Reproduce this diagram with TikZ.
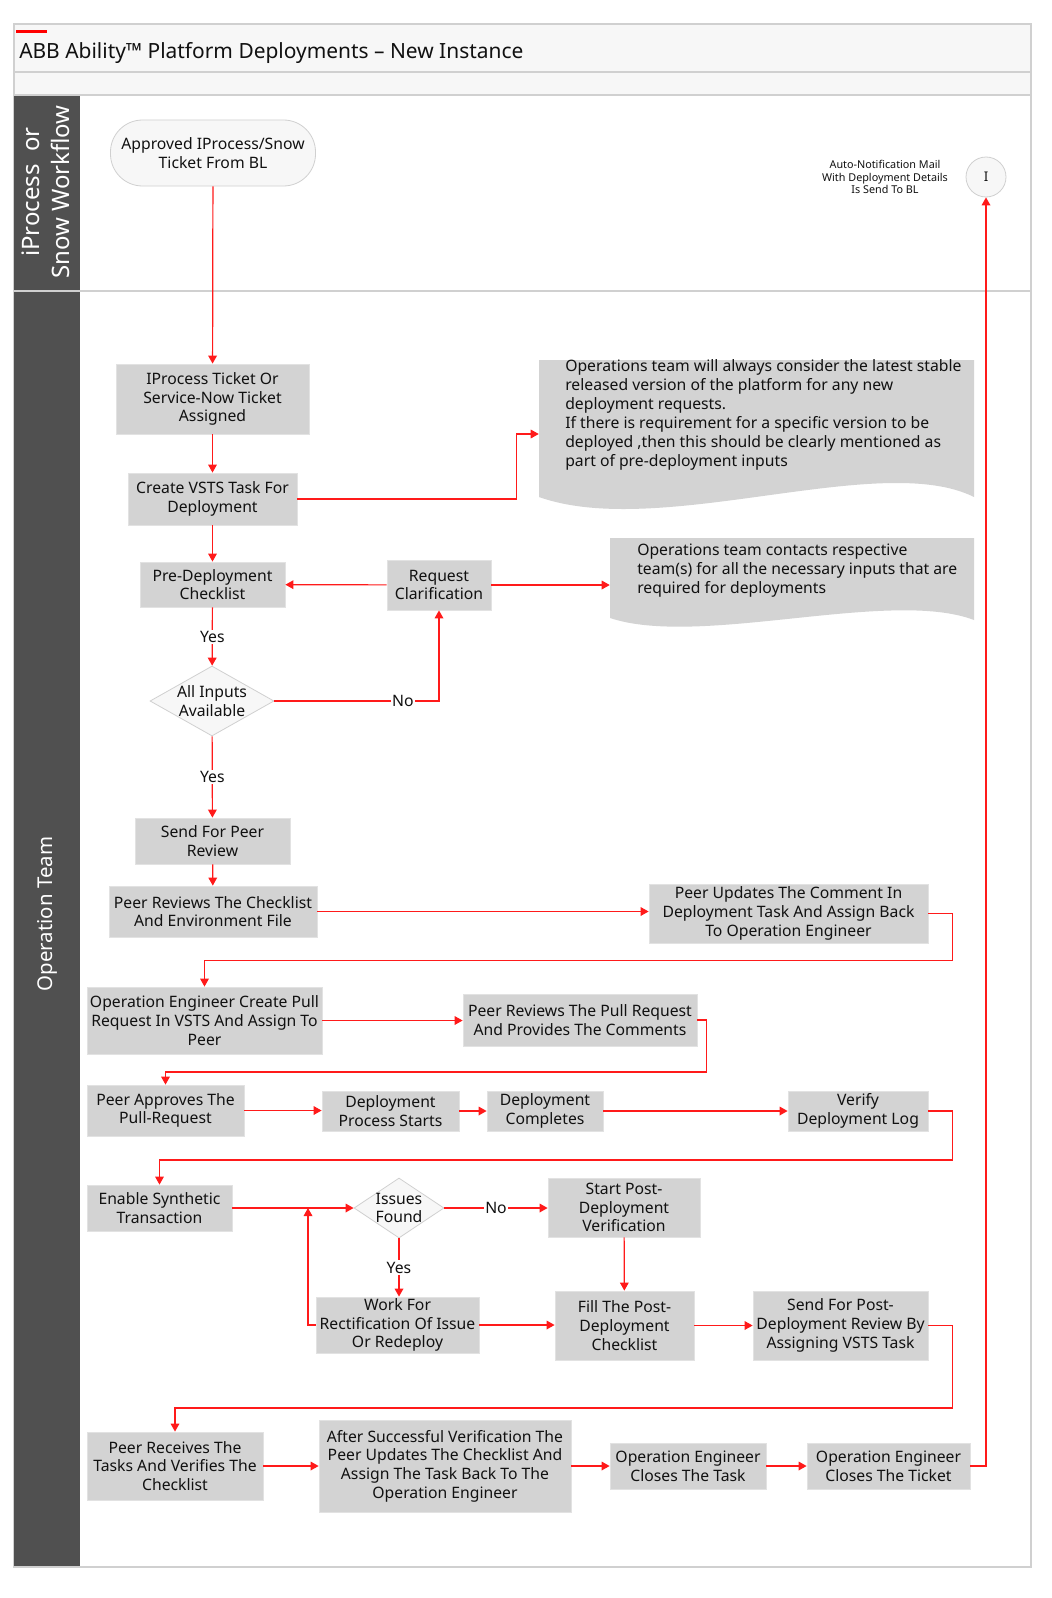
\documentclass[tikz,border=0pt]{standalone}
\usepackage{fontspec}
\setmainfont{Noto Sans}
\usetikzlibrary{arrows.meta,shapes.geometric,calc}
\definecolor{lanehd}{HTML}{505050}
\definecolor{boxgray}{HTML}{D3D3D3}
\definecolor{boxedge}{HTML}{E2E2E2}
\definecolor{bandgray}{HTML}{F7F7F7}
\definecolor{edgegray}{HTML}{D0D0D0}
\definecolor{flowred}{HTML}{FF1A1A}
\definecolor{txt}{HTML}{111111}
\begin{document}
\begin{tikzpicture}[x=0.75pt,y=-0.75pt,
  every node/.style={text=txt},
  sz/.style 2 args={minimum width=#1*0.75pt, minimum height=#2*0.75pt},
  box/.style={rectangle, fill=boxgray, draw=boxedge, line width=0.6pt, align=center, inner sep=0pt, font=\fontsize{11.8}{14}\selectfont},
  dia/.style={diamond, fill=bandgray, draw=edgegray, line width=0.6pt, inner sep=0pt},
  dtext/.style={align=center, font=\fontsize{11.8}{14}\selectfont},
  flow/.style={draw=flowred, line width=0.9pt, -{Triangle[width=6.5pt,length=6pt]}},
  lbl/.style={fill=white, inner sep=1pt, font=\fontsize{11.8}{13}\selectfont},
  notetext/.style={align=left, anchor=north west, inner sep=0pt, font=\fontsize{11.8}{14.25}\selectfont},
  lanelbl/.style={rotate=90, text=white, align=center}]
\useasboundingbox (0,0) rectangle (1051,1598);
% frame
\fill[white] (0,0) rectangle (1051,1598);
\fill[bandgray] (14,24) rectangle (1031,95);
\draw[edgegray, line width=0.8pt] (14,24) rectangle (1031,1567);
\draw[edgegray, line width=0.8pt] (14,72) -- (1031,72);
\draw[edgegray, line width=0.8pt] (14,95) -- (1031,95);
\draw[edgegray, line width=0.8pt] (14,291) -- (1031,291);
\fill[red] (16,30) rectangle (47,33);
\node[anchor=west, inner sep=0pt, font=\fontsize{15.7}{18}\selectfont] (title) at (19,53) {ABB Ability™ Platform Deployments – New Instance};
\fill[lanehd] (14,96) rectangle (80,290);
\fill[lanehd] (14,292) rectangle (80,1566);
\node[lanelbl, font=\fontsize{18}{22.5}\selectfont] (lane1) at (46,192) {iProcess\ \ or\\Snow Workflow};
\node[lanelbl, font=\fontsize{15.3}{18}\selectfont] (lane2) at (47,914) {Operation Team};

% notes (document shapes)
\fill[boxgray] (539,360) -- (974,360) -- (974,497) .. controls (880,450) and (660,540) .. (539,497) -- cycle;
\node[sz={435}{148}, inner sep=0pt] (note1) at (756.5,434) {};
\node[notetext] (note1t) at (565,359) {Operations team will always consider the latest stable\\released version of the platform for any new\\deployment requests.\\If there is requirement for a specific version to be\\deployed ,then this should be clearly mentioned as\\part of pre-deployment inputs};
\fill[boxgray] (610,538) -- (974,538) -- (974,620) .. controls (890,588) and (700,648) .. (610,618) -- cycle;
\node[sz={364}{94}, inner sep=0pt] (note2) at (792,585) {};
\node[notetext] (note2t) at (637,544) {Operations team contacts respective\\team(s) for all the necessary inputs that are\\required for deployments};

% top lane
\node[rectangle, rounded corners=24pt, fill=bandgray, draw=edgegray, line width=0.6pt, sz={205}{66}, align=center, inner sep=0pt, font=\fontsize{11.8}{14}\selectfont] (start) at (213,153) {Approved IProcess/Snow\\Ticket From BL};
\node[circle, fill=bandgray, draw=edgegray, line width=0.6pt, minimum size=40*0.75pt, inner sep=0pt, font=\fontsize{10}{12}\selectfont] (circ) at (986,177) {I};
\node[align=center, font=\bfseries\fontsize{8.1}{9.4}\selectfont] (auto) at (885,177) {Auto-Notification Mail\\With Deployment Details\\Is Send To BL};

% process boxes
\node[box, sz={193}{70}] (n1) at (212.5,399) {IProcess Ticket Or\\Service-Now Ticket\\Assigned};
\node[box, sz={169}{52}] (n2) at (212.5,499) {Create VSTS Task For\\Deployment};
\node[box, sz={145}{45}] (n3) at (212.5,584.5) {Pre-Deployment\\Checklist};
\node[box, sz={104}{50}] (req) at (439,585) {Request\\Clarification};
\node[dia, sz={124}{70}] (d1) at (212,701) {};
\node[dtext] (d1t) at (d1) {All Inputs\\Available};
\node[box, sz={155}{46}] (n4) at (212.5,841) {Send For Peer\\Review};
\node[box, sz={208}{51}] (n5) at (213,911.5) {Peer Reviews The Checklist\\And Environment File};
\node[box, sz={279}{59}] (n6) at (788.5,913.5) {Peer Updates The Comment In\\Deployment Task And Assign Back\\To Operation Engineer};
\node[box, sz={235}{67}] (n7) at (204.5,1020.5) {Operation Engineer Create Pull\\Request In VSTS And Assign To\\Peer};
\node[box, sz={234}{52}] (n8) at (580,1020) {Peer Reviews The Pull Request\\And Provides The Comments};
\node[box, sz={157}{51}] (n9) at (165.5,1110.5) {Peer Approves The\\Pull-Request};
\node[box, sz={137}{40}] (n10) at (390.5,1111) {Deployment\\Process Starts};
\node[box, sz={116}{40}] (n11) at (545,1111) {Deployment\\Completes};
\node[box, sz={140}{40}] (n12) at (858,1111) {Verify\\Deployment Log};
\node[box, sz={145}{46}] (n13) at (159.5,1208) {Enable Synthetic\\Transaction};
\node[dia, sz={90}{60}] (d2) at (399,1208) {};
\node[dtext] (d2t) at (d2) {Issues\\Found};
\node[box, sz={152}{59}] (n14) at (624,1207.5) {Start Post-\\Deployment\\Verification};
\node[box, sz={163}{56}] (n15) at (397.5,1325) {Work For\\Rectification Of Issue\\Or Redeploy};
\node[box, sz={139}{69}] (n16) at (624.5,1325.5) {Fill The Post-\\Deployment\\Checklist};
\node[box, sz={175}{69}] (n17) at (840.5,1325.5) {Send For Post-\\Deployment Review By\\Assigning VSTS Task};
\node[box, sz={176}{68}] (n18) at (175,1466) {Peer Receives The\\Tasks And Verifies The\\Checklist};
\node[box, sz={252}{92}] (n19) at (445,1466) {After Successful Verification The\\Peer Updates The Checklist And\\Assign The Task Back To The\\Operation Engineer};
\node[box, sz={156}{46}] (n20) at (688,1466) {Operation Engineer\\Closes The Task};
\node[box, sz={163}{46}] (n21) at (888.5,1466) {Operation Engineer\\Closes The Ticket};
\coordinate (j) at (308,1208);

% connectors
\draw[flow] (start) -- (n1);
\draw[flow] (n1) -- (n2);
\draw[flow] (n2.east) -- ++(219,0) |- (note1.west);
\draw[flow] (n2) -- (n3);
\draw[flow] (req) -- (n3);
\draw[flow] (req) -- (note2.west);
\draw[flow] (n3) -- node[lbl]{Yes} (d1);
\draw[flow] (d1.east) -| node[lbl, pos=0.39]{No} (req.south);
\draw[flow] (d1) -- node[lbl]{Yes} (n4);
\draw[flow] (n4) -- (n5);
\draw[flow] (n5.east) -- (n5.east -| n6.west);
\draw[flow] (n6.east) -- ++(24,0) -- ++(0,47) -| (n7.north);
\draw[flow] (n7.east) -- (n7.east -| n8.west);
\draw[flow] (n8.east) -- ++(9,0) -- ++(0,52) -| (n9.north);
\draw[flow] (n9.east) -- (n9.east -| n10.west);
\draw[flow] (n10) -- (n11);
\draw[flow] (n11) -- (n12);
\draw[flow] (n12.east) -- ++(24,0) -- ++(0,49) -| (n13.north);
\draw[flow] (n13.east) -- (d2.west);
\draw[flow] (d2.east) -- node[lbl]{No} (d2.east -| n14.west);
\draw[flow] (d2.south) -- node[lbl]{Yes} (d2.south |- n15.north);
\draw[flow] (n15.west) -| (j);
\draw[flow] (n15.east) -- (n15.east -| n16.west);
\draw[flow] (n14) -- (n16);
\draw[flow] (n16) -- (n17);
\draw[flow] (n17.east) -- ++(24,0) -- ++(0,82.5) -| (n18.north);
\draw[flow] (n18) -- (n19);
\draw[flow] (n19) -- (n20);
\draw[flow] (n20) -- (n21);
\draw[flow] (n21.east) -| (circ.south);
\end{tikzpicture}
\end{document}
